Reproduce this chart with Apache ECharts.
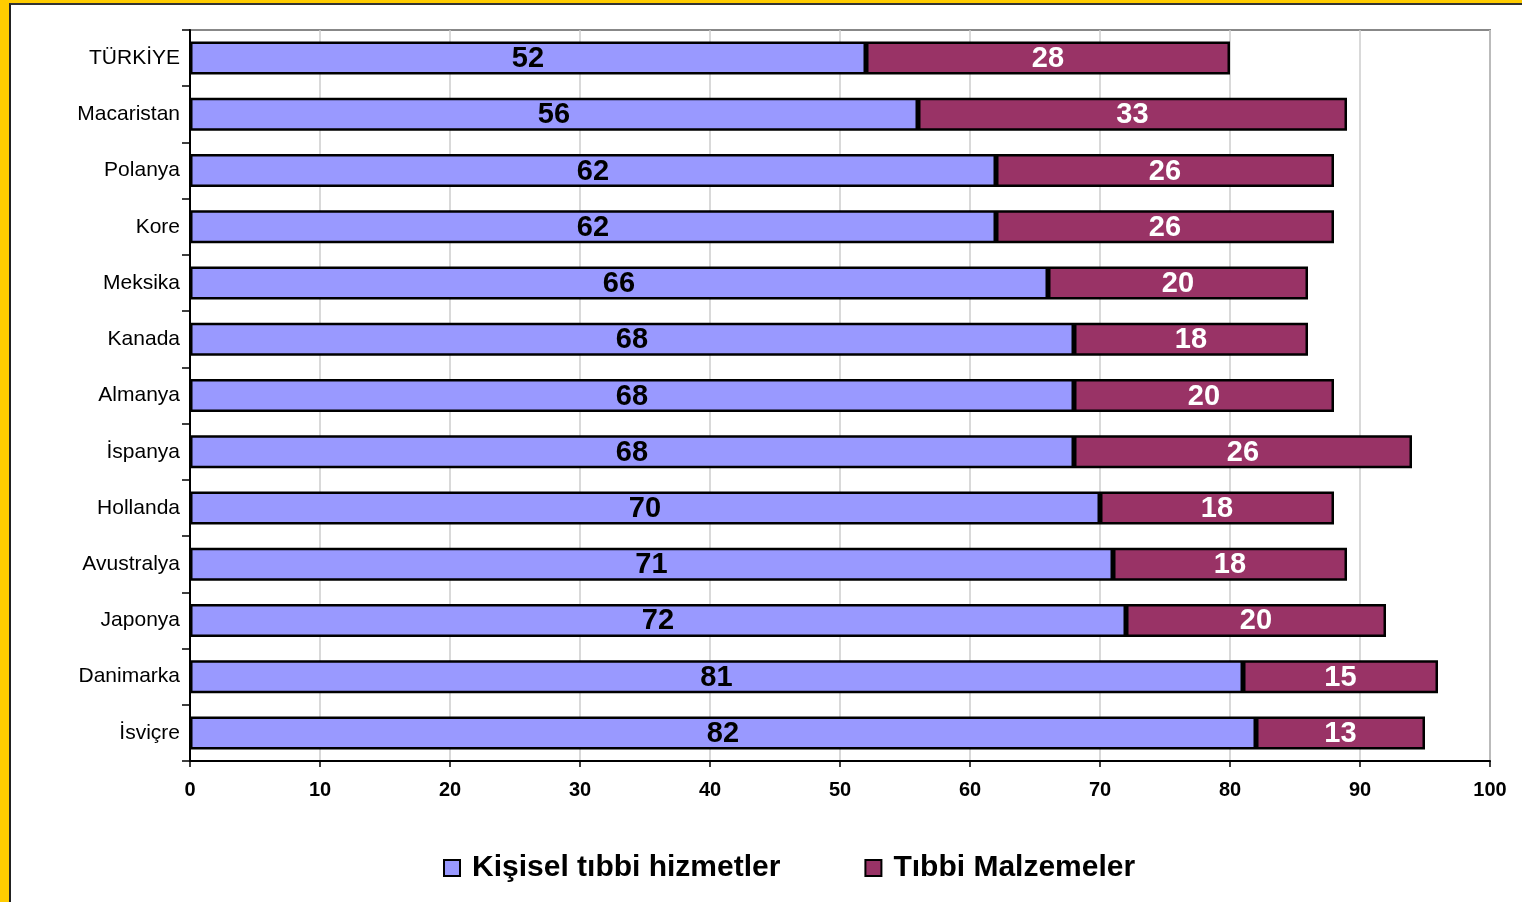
<!DOCTYPE html>
<html><head><meta charset="utf-8">
<script src="https://cdn.jsdelivr.net/npm/echarts@6/dist/echarts.min.js"></script>
<style>
html,body{margin:0;padding:0;width:1522px;height:902px;background:#FFCC00;overflow:hidden}
#frame{position:absolute;left:9px;top:3px;width:1513px;height:899px;background:#fff;border-left:2px solid #222;border-top:2px solid #333}
#c{position:absolute;left:0;top:0;width:1522px;height:902px}
</style></head>
<body><div id="frame"></div><div id="c"></div>
<script>
const categories = ['TÜRKİYE','Macaristan','Polanya','Kore','Meksika','Kanada','Almanya','İspanya','Hollanda','Avustralya','Japonya','Danimarka','İsviçre'];
const personal = [52,56,62,62,66,68,68,68,70,71,72,81,82];
const supplies = [28,33,26,26,20,18,20,26,18,18,20,15,13];
const seriesNames = ['Kişisel tıbbi hizmetler','Tıbbi Malzemeler'];
const xTicks = {min:0,max:100,interval:10};

const chart = echarts.init(document.getElementById('c'), null, {renderer:'canvas'});
const font = 'Liberation Sans, Arial, sans-serif';
chart.setOption({
  backgroundColor:'transparent',
  animation:false,
  grid:{left:190,top:30,width:1300,height:731,containLabel:false,show:true,borderColor:'#888',borderWidth:2,backgroundColor:'transparent'},
  xAxis:{type:'value',min:xTicks.min,max:xTicks.max,interval:xTicks.interval,
    axisLine:{show:true,lineStyle:{color:'#000',width:2}},
    axisTick:{show:true,length:6,inside:false,lineStyle:{color:'#000',width:1.5}},
    splitLine:{show:true,lineStyle:{color:'#ccc',width:1.5}},
    axisLabel:{color:'#000',fontFamily:font,fontWeight:'bold',fontSize:20,margin:19}},
  yAxis:{type:'category',data:categories,inverse:true,
    axisLine:{show:true,lineStyle:{color:'#000',width:2}},
    axisTick:{show:true,length:8,lineStyle:{color:'#000',width:1.5}},
    axisLabel:{color:'#000',fontFamily:font,fontSize:21,margin:10}},
  legend:{bottom:14,left:438,itemGap:84,itemWidth:16,itemHeight:16,
    icon:'rect',textStyle:{fontFamily:font,fontWeight:'bold',fontSize:30,color:'#000',padding:[0,0,0,7]},
    data:seriesNames},
  series:[
    {name:seriesNames[0],type:'bar',stack:'a',data:personal,barWidth:33,
     itemStyle:{color:'#9999FF',borderColor:'#000',borderWidth:2.5},
     label:{show:true,position:'inside',offset:[0,1],color:'#000',fontFamily:font,fontWeight:'bold',fontSize:29}},
    {name:seriesNames[1],type:'bar',stack:'a',data:supplies,barWidth:33,
     itemStyle:{color:'#993366',borderColor:'#000',borderWidth:2.5},
     label:{show:true,position:'inside',offset:[0,1],color:'#fff',fontFamily:font,fontWeight:'bold',fontSize:29}}
  ]
});
</script></body></html>
